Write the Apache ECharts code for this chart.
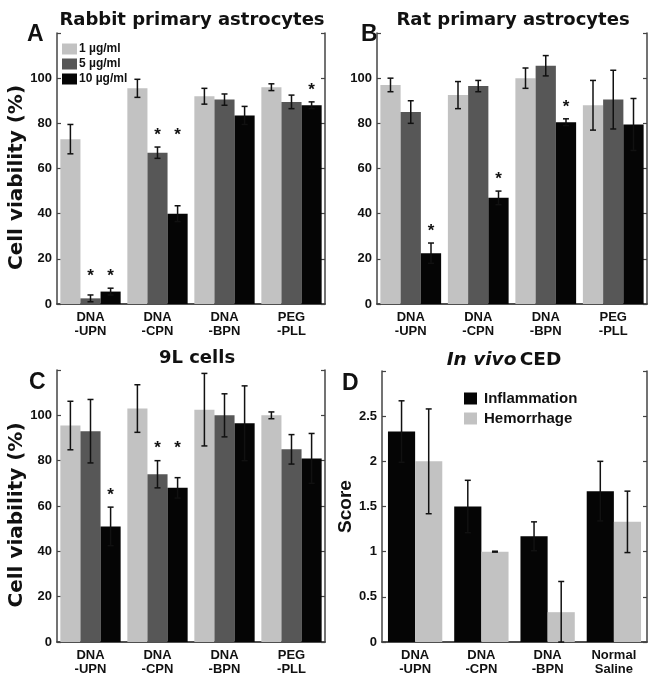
<!DOCTYPE html>
<html><head><meta charset="utf-8">
<script src="https://cdn.jsdelivr.net/npm/echarts@6/dist/echarts.min.js"></script>
<style>html,body{margin:0;padding:0;background:#fff}#c{width:664px;height:687px}</style>
</head><body><div id="c"></div>
<script>
// ---- data ----
const catsABC = ['DNA\n-UPN','DNA\n-CPN','DNA\n-BPN','PEG\n-PLL'];
const catsD = ['DNA\n-UPN','DNA\n-CPN','DNA\n-BPN','Normal\nSaline'];
const doseNames = ['1 µg/ml','5 µg/ml','10 µg/ml'];
const viabilityTicks = [0,20,40,60,80,100];
const scoreTicks = [0,0.5,1,1.5,2,2.5];

const rabbitMean = [[73,95.5,92,96],[2.5,67,90.5,89.5],[5.5,40,83.5,88]];
const rabbitErr  = [[6.5,4,3.5,1.5],[1.5,2.5,2.5,3],[1.5,3.5,4,1.5]];
const rabbitStar = [[0,0,0,0],[1,1,0,0],[1,1,0,1]];

const ratMean = [[97,92.5,100,88],[85,96.5,105.5,90.5],[22.5,47,80.5,79.5]];
const ratErr  = [[3,6,4.5,11],[5,2.5,4.5,13],[4.5,3,1.5,11.5]];
const ratStar = [[0,0,0,0],[0,0,0,0],[1,1,1,0]];

const nineLMean = [[95.5,103,102.5,100],[93,74,100,85],[51,68,96.5,81]];
const nineLErr  = [[10.7,10.5,16,1.5],[14,6,9.5,6.5],[8.5,4.5,16.5,11]];
const nineLStar = [[0,0,0,0],[0,1,0,0],[1,1,0,0]];

const cedNames = ['Inflammation','Hemorrhage'];
const cedMean = [[2.33,1.5,1.17,1.67],[2.0,1.0,0.33,1.33]];
const cedErr  = [[0.34,0.29,0.16,0.33],[0.58,0.005,0.34,0.34]];
const cedStar = [[0,0,0,0],[0,0,0,0]];

// ---- style ----
const FONT = '"Liberation Sans", Arial, Helvetica, sans-serif';
const WIDE = '"DejaVu Sans", Verdana, sans-serif';
const doseColors = ['#c2c2c2','#575757','#050505'];
const cedColors = ['#050505','#c2c2c2'];
const AX = '#444';

const grids = [
  {left:57, right:339, top:33, bottom:383},
  {left:377, right:17, top:33, bottom:383},
  {left:57, right:339, top:370, bottom:45},
  {left:382, right:17, top:371, bottom:45}
];

const xAxes = [], yAxes = [], series = [];

function addPanel(gi, cats, max, interval, tickVals, yName, fmt){
  const isScore = yName === 'Score';
  xAxes.push({type:'category', gridIndex:gi, data:cats, position:'bottom',
    axisLine:{lineStyle:{color:AX,width:1.5}}, axisTick:{inside:true,length:4,lineStyle:{color:AX,width:1.2}},
    axisLabel:{color:'#111', fontFamily:FONT, fontWeight:'bold', fontSize:13, lineHeight:14, margin:6, interval:0}});
  xAxes.push({type:'category', gridIndex:gi, data:cats, position:'top',
    axisLine:{lineStyle:{color:AX,width:1.5}}, axisTick:{inside:true,length:4,lineStyle:{color:AX,width:1.2}},
    axisLabel:{show:false}});
  yAxes.push({type:'value', gridIndex:gi, min:0, max:max, interval:interval, position:'left',
    name:yName, nameLocation:'middle', nameGap:isScore?24:18,
    nameTextStyle:{color:'#111', fontFamily:isScore?FONT:WIDE, fontWeight:'bold', fontSize:isScore?19:20,
      padding:isScore?[0,0,0,0]:[0,0,0,-18]},
    splitLine:{show:false},
    axisLine:{show:true, lineStyle:{color:AX,width:1.5}}, axisTick:{show:true, inside:true,length:4,lineStyle:{color:AX,width:1.2}},
    axisLabel:{color:'#111', fontFamily:FONT, fontWeight:'bold', fontSize:13, margin:5,
      formatter:function(v){ return tickVals.some(t=>Math.abs(t-v)<1e-9) ? fmt(v) : ''; }}});
  yAxes.push({type:'value', gridIndex:gi, min:0, max:max, interval:interval, position:'right',
    splitLine:{show:false},
    axisLine:{show:true, lineStyle:{color:AX,width:1.5}}, axisTick:{show:true, inside:true,length:4,lineStyle:{color:AX,width:1.2}},
    axisLabel:{show:false}});
}

function errRender(n, idx, gap){
  return function(params, api){
    const c = api.value(0), m = api.value(1), e = api.value(2), st = api.value(3), lvl = api.value(4);
    const band = api.size([1,0])[0];
    const bw = band*(1-gap)/n;
    const x = api.coord([c, m])[0] + (idx-(n-1)/2)*bw;
    const yt = api.coord([c, m+e])[1], yb = api.coord([c, Math.max(0,m-e)])[1];
    const cap = 3;
    const ls = {stroke:'#111', lineWidth:1.5};
    const ch = [
      {type:'line', shape:{x1:x,y1:yt,x2:x,y2:yb}, style:ls},
      {type:'line', shape:{x1:x-cap,y1:yt,x2:x+cap,y2:yt}, style:ls},
      {type:'line', shape:{x1:x-cap,y1:yb,x2:x+cap,y2:yb}, style:ls}
    ];
    if (st) {
      const ys = api.coord([c, lvl])[1] - 12;
      ch.push({type:'text', style:{text:'*', x:x, y:ys, align:'center', verticalAlign:'middle',
        font:'bold 17px '+FONT, fill:'#111'}});
    }
    return {type:'group', children:ch};
  };
}

function addSeries(gi, names, means, errs, stars, colors, gap){
  const n = names.length;
  // star level per category = highest error top among starred bars
  const lvls = means[0].map((_,c)=>{
    let mx = 0;
    for (let s=0;s<n;s++) if (stars[s][c]) mx = Math.max(mx, means[s][c]+errs[s][c]);
    return mx;
  });
  for (let s=0;s<n;s++){
    series.push({type:'bar', name:names[s], xAxisIndex:gi*2, yAxisIndex:gi*2,
      data:means[s], barGap:'0%', barCategoryGap:(gap*100)+'%',
      itemStyle:{color:colors[s]}, emphasis:{disabled:true}, animation:false});
  }
  for (let s=0;s<n;s++){
    series.push({type:'custom', name:names[s]+' err', xAxisIndex:gi*2, yAxisIndex:gi*2,
      renderItem:errRender(n, s, gap), z:5, animation:false,
      data:means[s].map((m,c)=>[c, m, errs[s][c], stars[s][c], lvls[c]])});
  }
}

const pct = v=>String(v);
addPanel(0, catsABC, 120, 20, viabilityTicks, 'Cell viability (%)', pct);
addPanel(1, catsABC, 120, 20, viabilityTicks, '', pct);
addPanel(2, catsABC, 120, 20, viabilityTicks, 'Cell viability (%)', pct);
addPanel(3, catsD, 3, 0.5, scoreTicks, 'Score', pct);

addSeries(0, doseNames, rabbitMean, rabbitErr, rabbitStar, doseColors, 0.1);
addSeries(1, doseNames, ratMean, ratErr, ratStar, doseColors, 0.1);
addSeries(2, doseNames, nineLMean, nineLErr, nineLStar, doseColors, 0.1);
addSeries(3, cedNames, cedMean, cedErr, cedStar, cedColors, 0.18);

const titleStyle = {font:'bold 18px '+WIDE, fill:'#111', align:'center', verticalAlign:'middle'};
const letterStyle = {font:'bold 23px '+FONT, fill:'#111', align:'left', verticalAlign:'middle'};

const option = {
  backgroundColor:'#fff',
  animation:false,
  grid: grids.map(g=>Object.assign({containLabel:false}, g)),
  xAxis: xAxes, yAxis: yAxes, series: series,
  legend: [
    {data:doseNames, orient:'vertical', left:57, top:38, itemWidth:15, itemHeight:11, itemGap:3, icon:'rect',
     selectedMode:false, textStyle:{fontFamily:FONT, fontWeight:'bold', fontSize:12, color:'#111', padding:[0,0,0,-3]}},
    {data:cedNames, orient:'vertical', left:459, top:386, itemWidth:13, itemHeight:12, itemGap:5, icon:'rect',
     selectedMode:false, textStyle:{fontFamily:FONT, fontWeight:'bold', fontSize:15, color:'#111', padding:[0,0,0,2]}}
  ],
  graphic: [
    {type:'text', x:192, y:20, style:Object.assign({text:'Rabbit primary astrocytes'}, titleStyle)},
    {type:'text', x:513, y:20, style:Object.assign({text:'Rat primary astrocytes'}, titleStyle)},
    {type:'text', x:197, y:358, style:Object.assign({text:'9L cells'}, titleStyle)},
    {type:'text', x:504, y:360, style:{text:'{i|In vivo} {n|CED}', align:'center', verticalAlign:'middle',
      rich:{i:{font:'italic bold 18.5px '+WIDE, fill:'#111'}, n:{font:'bold 18.5px '+WIDE, fill:'#111'}}}},
    {type:'text', x:27, y:35, style:Object.assign({text:'A'}, letterStyle)},
    {type:'text', x:361, y:35, style:Object.assign({text:'B'}, letterStyle)},
    {type:'text', x:29, y:383, style:Object.assign({text:'C'}, letterStyle)},
    {type:'text', x:342, y:384, style:Object.assign({text:'D'}, letterStyle)}
  ]
};
const chart = echarts.init(document.getElementById('c'), null, {renderer:'canvas'});
chart.setOption(option);
</script></body></html>
